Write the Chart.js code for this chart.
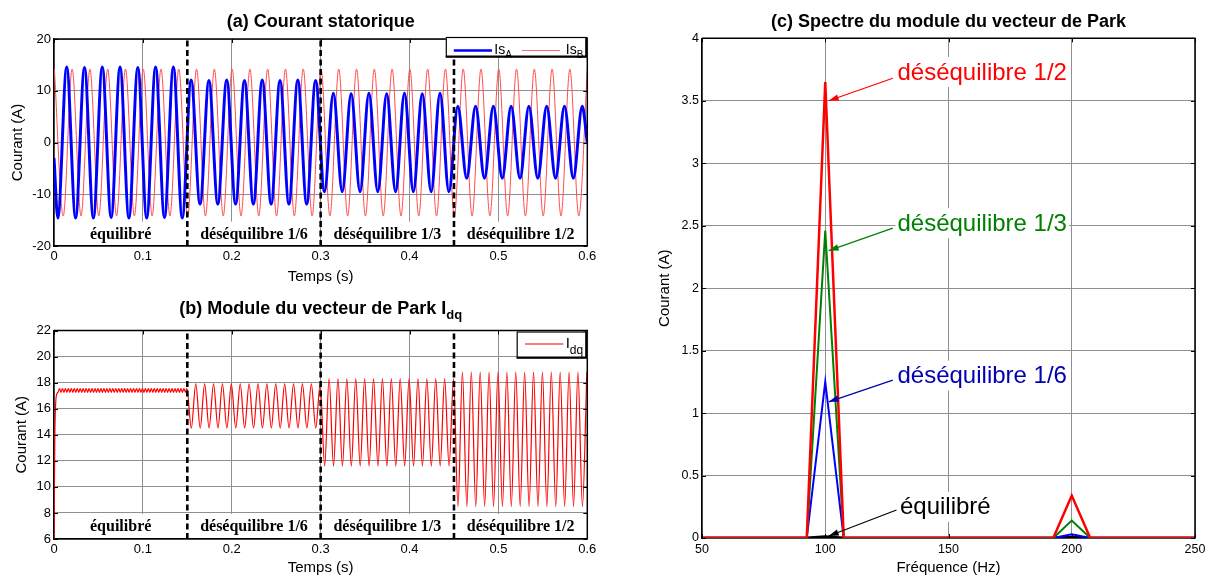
<!DOCTYPE html>
<html lang="fr">
<head>
<meta charset="utf-8">
<title>Courant statorique et vecteur de Park</title>
<script src="https://cdn.jsdelivr.net/npm/chart.js@4.4.1/dist/chart.umd.min.js"></script>
<style>
  html, body { margin:0; padding:0; background:#fff; }
  body { width:1211px; height:579px; position:relative; overflow:hidden; }
  .panel { position:absolute; }
</style>
</head>
<body>
<div class="panel" style="left:0;top:0;width:600px;height:290px"><canvas id="chartA"></canvas></div>
<div class="panel" style="left:0;top:290px;width:600px;height:289px"><canvas id="chartB"></canvas></div>
<div class="panel" style="left:640px;top:0;width:571px;height:579px"><canvas id="chartC"></canvas></div>
<script>
// ================= DATA =================
const simEndTime = 0.6;
const faultTimes = [0.15, 0.30, 0.45];
const segmentLabels = ['équilibré', 'déséquilibre 1/6', 'déséquilibre 1/3', 'déséquilibre 1/2'];

// Is_A : successive extremes (one every half period of 50 Hz)
const halfPeriod50Hz = 0.01;
const isAFirstExtremeTime = 0.0043;
const isAStartValue = -3;
const isAEndValue = 0;
const isAExtremes = [
  -14.6, 14.6, -14.6, 14.5, -14.6, 14.6, -14.5, 14.6, -14.6, 14.5, -14.6, 14.6, -14.5, 14.6, -14.6,
  12.1, -11.9, 12.0, -11.9, 12.1, -11.9, 12.0, -11.9, 12.1, -11.9, 12.0, -11.9, 12.1, -11.9, 12.0,
  -9.5, 9.5, -9.5, 9.4, -9.5, 9.5, -9.5, 9.4, -9.5, 9.5, -9.5, 9.4, -9.5, 9.5, -9.5,
  7.0, -6.9, 7.0, -6.9, 7.0, -6.9, 7.0, -6.9, 7.0, -6.9, 7.0, -6.9, 7.0, -6.9, 7.0
];

// Is_B : successive extremes
const isBFirstExtremeTime = 0.0004;
const isBEndValue = 14.0;
const isBExtremes = [
  14.2, -14.2, 14.2, -14.2, 14.2, -14.2, 14.2, -14.2, 14.2, -14.2,
  14.2, -14.2, 14.2, -14.2, 14.2, -14.2, 14.2, -14.2, 14.2, -14.2,
  14.2, -14.2, 14.2, -14.2, 14.2, -14.2, 14.2, -14.2, 14.2, -14.2,
  14.2, -14.2, 14.2, -14.2, 14.2, -14.2, 14.2, -14.2, 14.2, -14.2,
  14.2, -14.2, 14.2, -14.2, 14.2, -14.2, 14.2, -14.2, 14.2, -14.2,
  14.2, -14.2, 14.2, -14.2, 14.2, -14.2, 14.2, -14.2, 14.2, -14.2
];

// Idq : start-up, small ripple (balanced), then 100 Hz oscillation extremes
const idqStartTimes = [0, 0.001, 0.003];
const idqStartValues = [6, 14.3, 17.1];
const idqRippleFirstTime = 0.0045;
const idqRippleStep = 1 / 600;
const idqRipple = [
  17.25, 17.55, 17.25, 17.55, 17.25, 17.55, 17.25, 17.55, 17.25, 17.55,
  17.25, 17.55, 17.25, 17.55, 17.25, 17.55, 17.25, 17.55, 17.25, 17.55,
  17.25, 17.55, 17.25, 17.55, 17.25, 17.55, 17.25, 17.55, 17.25, 17.55,
  17.25, 17.55, 17.25, 17.55, 17.25, 17.55, 17.25, 17.55, 17.25, 17.55,
  17.25, 17.55, 17.25, 17.55, 17.25, 17.55, 17.25, 17.55, 17.25, 17.55,
  17.25, 17.55, 17.25, 17.55, 17.25, 17.55, 17.25, 17.55, 17.25, 17.55,
  17.25, 17.55, 17.25, 17.55, 17.25, 17.55, 17.25, 17.55, 17.25, 17.55,
  17.25, 17.55, 17.25, 17.55, 17.25, 17.55, 17.25, 17.55, 17.25, 17.55,
  17.25, 17.55, 17.25, 17.55, 17.25, 17.55, 17.25, 17.55
];
const idqOscFirstTime = 0.1545;
const idqOscStep = 0.005;
const idqOsc = [
  14.5, 17.9, 14.5, 17.9, 14.5, 17.9, 14.5, 17.9, 14.5, 17.9,
  14.5, 17.9, 14.5, 17.9, 14.5, 17.9, 14.5, 17.9, 14.5, 17.9,
  14.5, 17.9, 14.5, 17.9, 14.5, 17.9, 14.5, 17.9, 14.5, 17.9,
  11.6, 18.3, 11.6, 18.3, 11.6, 18.3, 11.6, 18.3, 11.6, 18.3,
  11.6, 18.3, 11.6, 18.3, 11.6, 18.3, 11.6, 18.3, 11.6, 18.3,
  11.6, 18.3, 11.6, 18.3, 11.6, 18.3, 11.6, 18.3, 11.6, 18.3,
  8.5, 18.8, 8.5, 18.8, 8.5, 18.8, 8.5, 18.8, 8.5, 18.8,
  8.5, 18.8, 8.5, 18.8, 8.5, 18.8, 8.5, 18.8, 8.5, 18.8,
  8.5, 18.8, 8.5, 18.8, 8.5, 18.8, 8.5, 18.8, 8.5, 18.8
];

// Spectrum of the Park vector modulus
const freqHz = [50, 92.5, 100, 107.5, 192.5, 200, 207.5, 250];
const specEquilibre = [0, 0, 0.01, 0, 0, 0.005, 0, 0];
const specDes16 = [0, 0, 1.25, 0, 0, 0.03, 0, 0];
const specDes13 = [0, 0, 2.46, 0, 0, 0.14, 0, 0];
const specDes12 = [0, 0, 3.65, 0, 0, 0.34, 0, 0];

// ================= STYLE / HELPERS =================
const SANS = "'Liberation Sans', Arial, Helvetica, sans-serif";
const SERIF = "'Liberation Serif', 'Times New Roman', serif";
const GRID = '#8f8f8f';
Chart.defaults.font.family = SANS;
Chart.defaults.color = '#000';

function series(first, step, values) {
  return values.map((v, k) => ({ x: first + k * step, y: v }));
}
const isAPoints = [{ x: 0, y: isAStartValue }, ...series(isAFirstExtremeTime, halfPeriod50Hz, isAExtremes), { x: simEndTime, y: isAEndValue }];
const isBPoints = [...series(isBFirstExtremeTime, halfPeriod50Hz, isBExtremes), { x: simEndTime, y: isBEndValue }];
const idqPoints = [
  ...idqStartTimes.map((t, i) => ({ x: t, y: idqStartValues[i] })),
  ...series(idqRippleFirstTime, idqRippleStep, idqRipple),
  ...series(idqOscFirstTime, idqOscStep, idqOsc)
];
const specPts = vals => vals.map((v, i) => ({ x: freqHz[i], y: v }));
const plainNumber = v => String(Number(Number(v).toFixed(3)));

function faultLines(yMin, yMax) {
  return faultTimes.map(t => ({
    data: [{ x: t, y: yMin }, { x: t, y: yMax }],
    borderColor: '#000', borderWidth: 2.6, borderDash: [6, 3.5],
    pointRadius: 0, tension: 0
  }));
}

function drawWithSub(ctx, x, baseY, main, sub, mainFont, subFont, subDrop, align) {
  ctx.font = mainFont; const w1 = ctx.measureText(main).width;
  ctx.font = subFont; const w2 = ctx.measureText(sub).width;
  const x0 = align === 'center' ? x - (w1 + w2) / 2 : x;
  ctx.textAlign = 'left'; ctx.textBaseline = 'alphabetic';
  ctx.font = mainFont; ctx.fillText(main, x0, baseY);
  ctx.font = subFont; ctx.fillText(sub, x0 + w1, baseY + subDrop);
}

// ---- plugins ----
const segmentText = {
  id: 'segmentText',
  beforeDatasetsDraw(chart, args, o) {
    const { ctx, chartArea, scales: { x, y } } = chart;
    const bounds = [x.min, ...faultTimes, x.max];
    ctx.save();
    ctx.font = `bold 16px ${SERIF}`;
    ctx.textAlign = 'center'; ctx.textBaseline = 'middle';
    segmentLabels.forEach((lab, i) => {
      const cx = x.getPixelForValue((bounds[i] + bounds[i + 1]) / 2);
      const cy = y.getPixelForValue(o.yValue);
      const w = ctx.measureText(lab).width;
      ctx.fillStyle = '#fff';
      ctx.fillRect(cx - w / 2 - 4, cy - o.boxAbove, w + 8, chartArea.bottom - 1 - (cy - o.boxAbove));
      ctx.fillStyle = '#000';
      ctx.fillText(lab, cx, cy + 1);
    });
    ctx.restore();
  }
};

const frameLines = {
  id: 'frameLines',
  afterDatasetsDraw(chart, args, o) {
    const { ctx, chartArea: { left, right, top, bottom }, scales: { x, y } } = chart;
    ctx.save();
    ctx.strokeStyle = '#000'; ctx.lineWidth = 1;
    const L = 4;
    ctx.beginPath();
    x.ticks.forEach(t => {
      const px = Math.round(x.getPixelForValue(t.value)) + 0.5;
      ctx.moveTo(px, top); ctx.lineTo(px, top + L);
      if (o.bottomTicks) { ctx.moveTo(px, bottom); ctx.lineTo(px, bottom - L); }
    });
    y.ticks.forEach(t => {
      const py = Math.round(y.getPixelForValue(t.value)) + 0.5;
      ctx.moveTo(left, py); ctx.lineTo(left + L, py);
      ctx.moveTo(right, py); ctx.lineTo(right - L, py);
    });
    ctx.stroke();
    ctx.lineWidth = 1.5;
    ctx.beginPath(); ctx.moveTo(left, top); ctx.lineTo(right, top); ctx.lineTo(right, bottom); ctx.stroke();
    ctx.restore();
  }
};

const matlabLegend = {
  id: 'matlabLegend',
  afterDraw(chart, args, o) {
    const { ctx, chartArea: { right, top } } = chart;
    ctx.save();
    const bx = right - o.boxWidth, by = top + o.boxTop;
    ctx.fillStyle = '#fff'; ctx.fillRect(bx, by, o.boxWidth, o.boxHeight);
    ctx.strokeStyle = '#000'; ctx.lineWidth = 1.2;
    ctx.strokeRect(bx + 0.5, by + 0.5, o.boxWidth - 1, o.boxHeight - 1);
    ctx.lineWidth = 2.2;
    ctx.beginPath();
    ctx.moveTo(bx, by + o.boxHeight - 1); ctx.lineTo(bx + o.boxWidth - 1, by + o.boxHeight - 1); ctx.lineTo(bx + o.boxWidth - 1, by);
    ctx.stroke();
    o.items.forEach(it => {
      ctx.strokeStyle = it.color; ctx.lineWidth = it.width;
      ctx.beginPath(); ctx.moveTo(right - it.lineFrom, top + o.lineY); ctx.lineTo(right - it.lineTo, top + o.lineY); ctx.stroke();
      ctx.fillStyle = '#000';
      drawWithSub(ctx, right - it.textAt, top + o.textBase, it.main, it.sub, o.mainFont, o.subFont, o.subDrop, 'left');
    });
    ctx.restore();
  }
};

const richTitle = {
  id: 'richTitle',
  afterDraw(chart, args, o) {
    const { ctx, chartArea: { left, right } } = chart;
    ctx.save(); ctx.fillStyle = '#000';
    drawWithSub(ctx, (left + right) / 2, o.baseY, o.main, o.sub, `bold 18px ${SANS}`, `bold 13px ${SANS}`, 5, 'center');
    ctx.restore();
  }
};

const specNotes = {
  id: 'specNotes',
  afterDatasetsDraw(chart, args, o) {
    const { ctx, scales: { x, y } } = chart;
    ctx.save();
    ctx.font = `24px ${SANS}`; ctx.textBaseline = 'middle'; ctx.textAlign = 'left';
    o.notes.forEach(n => {
      const tx = x.getPixelForValue(n.text[0]), ty = y.getPixelForValue(n.text[1]);
      const w = ctx.measureText(n.label).width;
      ctx.fillStyle = '#fff'; ctx.fillRect(tx - 2, ty - 15, w + 4, 30);
      ctx.fillStyle = n.color; ctx.fillText(n.label, tx, ty + 1);
      const ax = x.getPixelForValue(n.tail[0]), ay = y.getPixelForValue(n.tail[1]);
      const bx = x.getPixelForValue(n.tip[0]), by = y.getPixelForValue(n.tip[1]);
      ctx.strokeStyle = n.color; ctx.lineWidth = 1.2;
      ctx.beginPath(); ctx.moveTo(ax, ay); ctx.lineTo(bx, by); ctx.stroke();
      const a = Math.atan2(by - ay, bx - ax), L = 10, W = 3.2;
      ctx.beginPath();
      ctx.moveTo(bx, by);
      ctx.lineTo(bx - L * Math.cos(a) + W * Math.sin(a), by - L * Math.sin(a) - W * Math.cos(a));
      ctx.lineTo(bx - L * Math.cos(a) - W * Math.sin(a), by - L * Math.sin(a) + W * Math.cos(a));
      ctx.closePath(); ctx.fillStyle = n.color; ctx.fill();
    });
    ctx.restore();
  }
};

function timeAxis(height, titlePadBottom) {
  return {
    type: 'linear', min: 0, max: simEndTime,
    ticks: { stepSize: 0.1, padding: 3, font: { size: 13 }, maxRotation: 0, autoSkip: false, callback: plainNumber },
    grid: { color: GRID, lineWidth: 1, drawTicks: false },
    border: { color: '#000', width: 1.5 },
    title: { display: true, text: 'Temps (s)', font: { size: 15 }, padding: { top: 0, bottom: titlePadBottom } },
    afterFit(s) { s.height = height; }
  };
}
function valueAxis(min, max, step, width, titlePadTop, fontSize) {
  return {
    type: 'linear', min, max,
    ticks: { stepSize: step, padding: 3, font: { size: fontSize }, callback: plainNumber },
    grid: { color: GRID, lineWidth: 1, drawTicks: false },
    border: { color: '#000', width: 1.5 },
    title: { display: true, text: 'Courant (A)', font: { size: 15 }, padding: { top: titlePadTop, bottom: 0 } },
    afterFit(s) { s.width = width; }
  };
}
const common = { responsive: true, maintainAspectRatio: false, animation: false, devicePixelRatio: 1, events: [] };

// ================= (a) =================
new Chart(document.getElementById('chartA'), {
  type: 'line',
  data: {
    datasets: [
      ...faultLines(-20, 20),
      { data: isAPoints, borderColor: '#0000ff', borderWidth: 3, pointRadius: 0, cubicInterpolationMode: 'monotone' },
      { data: isBPoints, borderColor: '#ff4d4d', borderWidth: 1, pointRadius: 0, cubicInterpolationMode: 'monotone' }
    ]
  },
  options: {
    ...common,
    layout: { padding: { left: 0, right: 12.7, top: 0, bottom: 0 } },
    plugins: {
      legend: { display: false }, tooltip: { enabled: false },
      title: { display: true, text: '(a) Courant statorique', fullSize: false, color: '#000',
               font: { size: 18, weight: 'bold' }, padding: { top: 10.9, bottom: 6.5 } },
      segmentText: { yValue: -17.6, boxAbove: 12 },
      frameLines: { bottomTicks: false },
      matlabLegend: {
        boxWidth: 141.5, boxTop: -2, boxHeight: 20.5, lineY: 11.5, textBase: 14.5, subDrop: 4.5,
        mainFont: `14px ${SANS}`, subFont: `10px ${SANS}`,
        items: [
          { color: '#0000ff', width: 2.5, lineFrom: 133.5, lineTo: 95.3, textAt: 93, main: 'Is', sub: 'A' },
          { color: '#ff6a6a', width: 1, lineFrom: 65.6, lineTo: 27.3, textAt: 21.5, main: 'Is', sub: 'B' }
        ]
      }
    },
    scales: { x: timeAxis(44, 4.3), y: valueAxis(-20, 20, 10, 54, 8.6, 13) }
  },
  plugins: [segmentText, frameLines, matlabLegend]
});

// ================= (b) =================
new Chart(document.getElementById('chartB'), {
  type: 'line',
  data: {
    datasets: [
      ...faultLines(6, 22),
      { data: idqPoints, borderColor: '#ff0000', borderWidth: 1.2, pointRadius: 0, cubicInterpolationMode: 'monotone' }
    ]
  },
  options: {
    ...common,
    layout: { padding: { left: 0, right: 12.7, top: 40.5, bottom: 0 } },
    plugins: {
      legend: { display: false }, tooltip: { enabled: false }, title: { display: false },
      richTitle: { main: '(b) Module du vecteur de Park I', sub: 'dq', baseY: 24 },
      segmentText: { yValue: 7.0, boxAbove: 12 },
      frameLines: { bottomTicks: false },
      matlabLegend: {
        boxWidth: 70.6, boxTop: 1, boxHeight: 27, lineY: 13.5, textBase: 17, subDrop: 6.5,
        mainFont: `15px ${SANS}`, subFont: `12px ${SANS}`,
        items: [
          { color: '#ff0000', width: 1.2, lineFrom: 62.3, lineTo: 24, textAt: 21.6, main: 'I', sub: 'dq' }
        ]
      }
    },
    scales: { x: timeAxis(40, 1.7), y: valueAxis(6, 22, 2, 54, 12.4, 13) }
  },
  plugins: [segmentText, frameLines, matlabLegend, richTitle]
});

// ================= (c) =================
new Chart(document.getElementById('chartC'), {
  type: 'line',
  data: {
    datasets: [
      { data: specPts(specDes12), borderColor: '#ff0000', borderWidth: 2.5, pointRadius: 0, tension: 0 },
      { data: specPts(specDes13), borderColor: '#008000', borderWidth: 2, pointRadius: 0, tension: 0 },
      { data: specPts(specDes16), borderColor: '#0000ff', borderWidth: 2, pointRadius: 0, tension: 0 },
      { data: specPts(specEquilibre), borderColor: '#000000', borderWidth: 3, pointRadius: 0, tension: 0 }
    ]
  },
  options: {
    ...common,
    layout: { padding: { left: 0, right: 16, top: 0, bottom: 0 } },
    plugins: {
      legend: { display: false }, tooltip: { enabled: false },
      title: { display: true, text: '(c) Spectre du module du vecteur de Park', fullSize: false, color: '#000',
               font: { size: 18, weight: 'bold' }, padding: { top: 10.9, bottom: 5.8 } },
      specNotes: {
        notes: [
          { label: segmentLabels[3], color: '#ff0000', tip: [101.4, 3.50], tail: [127.4, 3.68], text: [129.3, 3.73] },
          { label: segmentLabels[2], color: '#008000', tip: [101.4, 2.30], tail: [127.4, 2.48], text: [129.3, 2.52] },
          { label: segmentLabels[1], color: '#0000b0', tip: [101.4, 1.09], tail: [127.4, 1.264], text: [129.3, 1.30] },
          { label: segmentLabels[0], color: '#000000', tip: [101.4, 0.016], tail: [128.9, 0.224], text: [130.3, 0.25] }
        ]
      },
      frameLines: { bottomTicks: true }
    },
    scales: {
      x: {
        type: 'linear', min: 50, max: 250,
        ticks: { stepSize: 50, padding: 4, font: { size: 12.5 }, maxRotation: 0, autoSkip: false, callback: plainNumber },
        grid: { color: GRID, lineWidth: 1, drawTicks: false },
        border: { color: '#000', width: 1.5 },
        title: { display: true, text: 'Fréquence (Hz)', font: { size: 15 }, padding: { top: 0, bottom: 2 } },
        afterFit(s) { s.height = 41; }
      },
      y: valueAxis(0, 4, 0.5, 62, 16, 12.5)
    }
  },
  plugins: [specNotes, frameLines]
});
</script>
</body>
</html>
